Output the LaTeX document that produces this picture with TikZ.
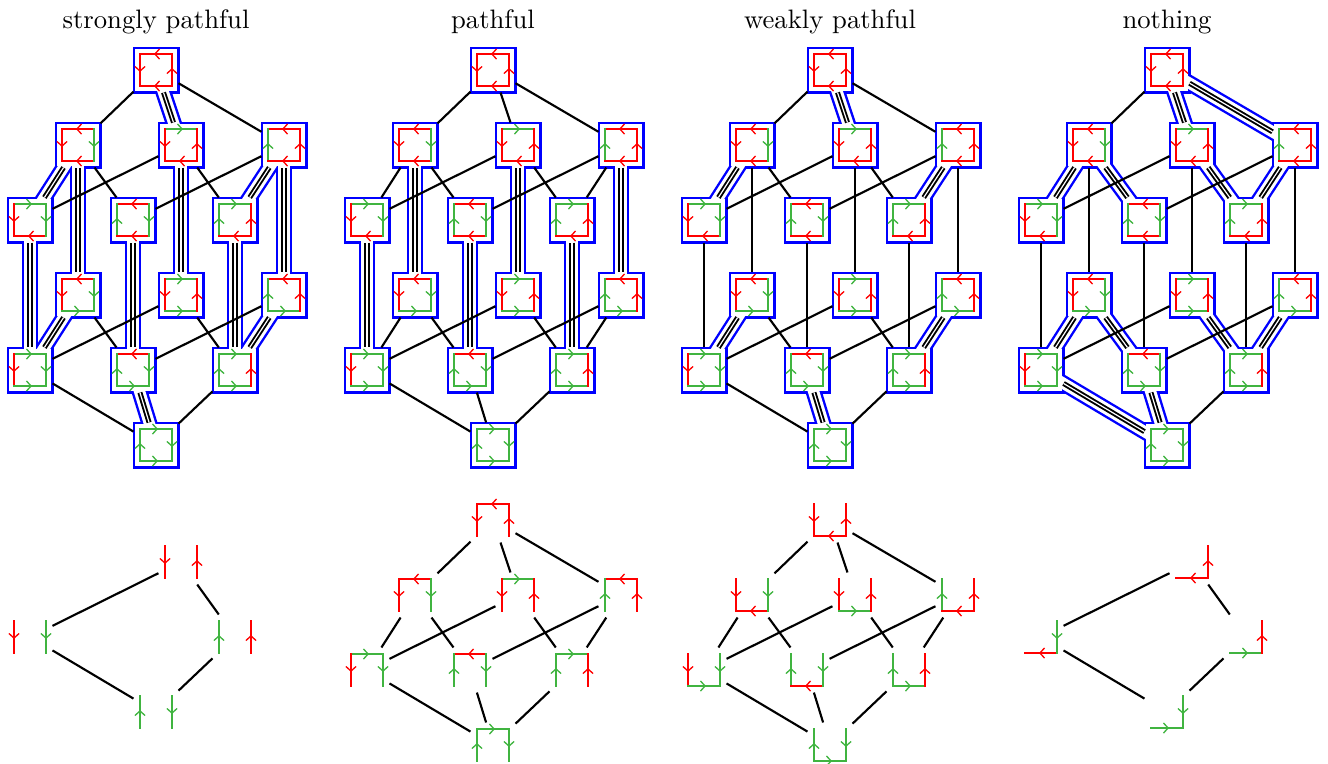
\documentclass[tikz,border=0pt]{standalone}
\usetikzlibrary{arrows.meta,decorations.markings}
\definecolor{cR}{RGB}{255,0,0}
\definecolor{cG}{RGB}{64,180,64}
\definecolor{cB}{RGB}{0,0,255}
\tikzset{
  bx/.style={rectangle,minimum size=16.9pt,inner sep=0pt,outer sep=0pt},
  arrmark/.style={postaction={decorate},decoration={markings,mark=at position 0.56 with {\arrow{Straight Barb[length=1.7pt,width=3.8pt,line width=0.5pt]}}}},
  eR/.style={draw=cR,line width=0.9pt,line cap=rect,arrmark},
  eG/.style={draw=cG,line width=0.9pt,line cap=rect,arrmark},
  single/.style={draw=black,line width=0.8pt},
  tubeB/.style={draw=cB,line width=6pt},
  tubeW/.style={draw=white,line width=4.2pt},
  tubeK/.style={draw=black,double=white,line width=0.72pt,double distance=0.45pt},
  ttl/.style={anchor=base},
}
\newcommand\mysqT[2]{\if#2R\draw[eR]([shift={(16,-16)}]#1.center)--([shift={(-16,-16)}]#1.center);\fi
 \if#2G\draw[eG]([shift={(-16,-16)}]#1.center)--([shift={(16,-16)}]#1.center);\fi}
\newcommand\mysqL[2]{\if#2R\draw[eR]([shift={(-16,-16)}]#1.center)--([shift={(-16,16)}]#1.center);\fi
 \if#2G\draw[eG]([shift={(-16,16)}]#1.center)--([shift={(-16,-16)}]#1.center);\fi}
\newcommand\mysqB[2]{\if#2R\draw[eR]([shift={(16,16)}]#1.center)--([shift={(-16,16)}]#1.center);\fi
 \if#2G\draw[eG]([shift={(-16,16)}]#1.center)--([shift={(16,16)}]#1.center);\fi}
\newcommand\mysqR[2]{\if#2R\draw[eR]([shift={(16,16)}]#1.center)--([shift={(16,-16)}]#1.center);\fi
 \if#2G\draw[eG]([shift={(16,-16)}]#1.center)--([shift={(16,16)}]#1.center);\fi}
\newcommand\mysq[5]{\mysqT{#1}{#2}\mysqL{#1}{#3}\mysqB{#1}{#4}\mysqR{#1}{#5}}
\newcommand\latnodes[2]{%
 \node[bx] (#1T) at (#2,70) {};
 \node[bx] (#1A1) at (#2-78,145) {};
 \node[bx] (#1A2) at (#2+25,145) {};
 \node[bx] (#1A3) at (#2+128,145) {};
 \node[bx] (#1B1) at (#2-126,220) {};
 \node[bx] (#1B2) at (#2-23,220) {};
 \node[bx] (#1B3) at (#2+79,220) {};
 \node[bx] (#1C1) at (#2-78,295) {};
 \node[bx] (#1C2) at (#2+25,295) {};
 \node[bx] (#1C3) at (#2+128,295) {};
 \node[bx] (#1D1) at (#2-126,370) {};
 \node[bx] (#1D2) at (#2-23,370) {};
 \node[bx] (#1D3) at (#2+79,370) {};
 \node[bx] (#1Z) at (#2,445) {};
}
\newcommand\latsq[1]{%
 \mysq{#1T}RRRR \mysq{#1A1}RRRG \mysq{#1A2}GRRR \mysq{#1A3}RGRR
 \mysq{#1B1}GRRG \mysq{#1B2}RGRG \mysq{#1B3}GGRR
 \mysq{#1C1}RRGG \mysq{#1C2}GRGR \mysq{#1C3}RGGR
 \mysq{#1D1}GRGG \mysq{#1D2}RGGG \mysq{#1D3}GGGR \mysq{#1Z}GGGG}
\newcommand\drawlat[4]{%
 \latnodes{#1}{#2}
 \foreach \n in {T,A1,A2,A3,B1,B2,B3,C1,C2,C3,D1,D2,D3,Z}
   {\fill[cB]([shift={(-23.5,-23.5)}]#1\n.center) rectangle ([shift={(23.5,23.5)}]#1\n.center);}
 \foreach \a/\b in {#3}{\draw[tubeB](#1\a.center)--(#1\b.center);}
 \foreach \n in {T,A1,A2,A3,B1,B2,B3,C1,C2,C3,D1,D2,D3,Z}
   {\fill[white]([shift={(-21.1,-21.1)}]#1\n.center) rectangle ([shift={(21.1,21.1)}]#1\n.center);}
 \foreach \a/\b in {#3}{\draw[tubeW](#1\a.center)--(#1\b.center);}
 \foreach \a/\b in {#3}{\draw[tubeK](#1\a)--(#1\b);}
 \latsq{#1}
 \foreach \a/\b in {#4}{\draw[single](#1\a)--(#1\b);}
}
\newcommand\cubenodes[2]{%
 \node[bx] (#1T) at (#2,520) {};
 \node[bx] (#1A1) at (#2-78,595) {};
 \node[bx] (#1A2) at (#2+25,595) {};
 \node[bx] (#1A3) at (#2+128,595) {};
 \node[bx] (#1B1) at (#2-126,670) {};
 \node[bx] (#1B2) at (#2-23,670) {};
 \node[bx] (#1B3) at (#2+79,670) {};
 \node[bx] (#1Z) at (#2,745) {};
 \foreach \a/\b in {T/A1,T/A2,T/A3,A1/B1,A1/B2,A2/B1,A2/B3,A3/B2,A3/B3,B1/Z,B2/Z,B3/Z}{\draw[single](#1\a)--(#1\b);}
}
\begin{document}
\begin{tikzpicture}[x=0.375pt,y=-0.375pt]
\useasboundingbox (0,0) rectangle (1328,763);
% titles
\node[ttl] (t1) at (156,28) {strongly pathful};
\node[ttl] (t2) at (493,28) {pathful};
\node[ttl] (t3) at (830,28) {weakly pathful};
\node[ttl] (t4) at (1167,28) {nothing};
% upper lattices
\drawlat{s}{156}{T/A2,A1/B1,A1/C1,A2/C2,A3/B3,A3/C3,B1/D1,B2/D2,B3/D3,C1/D1,C3/D3,D2/Z}{T/A1,T/A3,A1/B2,A2/B1,A2/B3,A3/B2,C1/D2,C2/D1,C2/D3,C3/D2,D1/Z,D3/Z}
\drawlat{p}{493}{A1/C1,A2/C2,A3/C3,B1/D1,B2/D2,B3/D3}{T/A1,T/A2,T/A3,A1/B1,A1/B2,A2/B1,A2/B3,A3/B2,A3/B3,C1/D1,C1/D2,C2/D1,C2/D3,C3/D2,C3/D3,D1/Z,D2/Z,D3/Z}
\drawlat{w}{830}{T/A2,A1/B1,A3/B3,C1/D1,C3/D3,D2/Z}{T/A1,T/A3,A1/B2,A1/C1,A2/B1,A2/C2,A2/B3,A3/B2,A3/C3,B1/D1,B2/D2,B3/D3,C1/D2,C2/D1,C2/D3,C3/D2,D1/Z,D3/Z}
\drawlat{n}{1167}{T/A2,T/A3,A1/B1,A1/B2,A2/B3,A3/B3,C1/D1,C1/D2,C2/D3,C3/D3,D1/Z,D2/Z}{T/A1,A1/C1,A2/B1,A2/C2,A3/B2,A3/C3,B1/D1,B2/D2,B3/D3,C2/D1,C3/D2,D3/Z}
% lower diagram 1
\node[bx] (uT) at (181,562) {};
\node[bx] (uL) at (30,637) {};
\node[bx] (uR) at (235,637) {};
\node[bx] (uZ) at (156,712) {};
\mysq{uT}NRNR \mysq{uL}NRNG \mysq{uR}NGNR \mysq{uZ}NGNG
\foreach \a/\b in {T/L,T/R,L/Z,R/Z}{\draw[single](u\a)--(u\b);}
% lower diagram 2
\cubenodes{v}{493}
\mysq{vT}RRNR \mysq{vA1}RRNG \mysq{vA2}GRNR \mysq{vA3}RGNR
\mysq{vB1}GRNG \mysq{vB2}RGNG \mysq{vB3}GGNR \mysq{vZ}GGNG
% lower diagram 3
\cubenodes{y}{830}
\mysq{yT}NRRR \mysq{yA1}NRRG \mysq{yA2}NRGR \mysq{yA3}NGRR
\mysq{yB1}NRGG \mysq{yB2}NGRG \mysq{yB3}NGGR \mysq{yZ}NGGG
% lower diagram 4
\node[bx] (xT) at (1192,562) {};
\node[bx] (xL) at (1041,637) {};
\node[bx] (xR) at (1246,637) {};
\node[bx] (xZ) at (1167,712) {};
\mysq{xT}NNRR \mysq{xL}NNRG \mysq{xR}NNGR \mysq{xZ}NNGG
\foreach \a/\b in {T/L,T/R,L/Z,R/Z}{\draw[single](x\a)--(x\b);}
\end{tikzpicture}
\end{document}
